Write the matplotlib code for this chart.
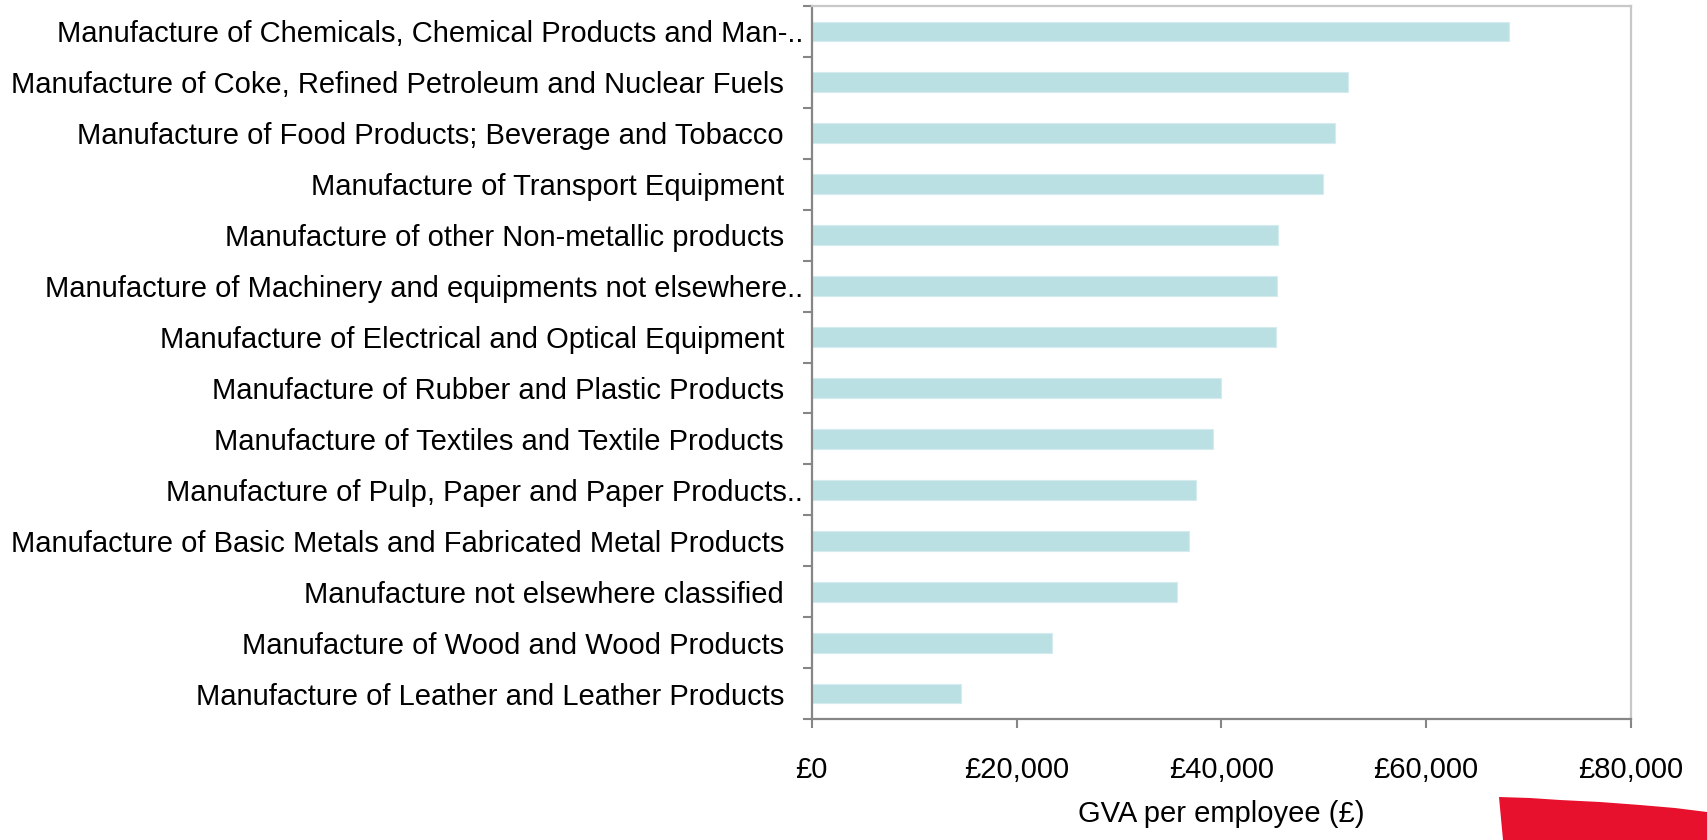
import matplotlib
matplotlib.use("Agg")
import matplotlib.pyplot as plt
from matplotlib.patches import Polygon
from matplotlib.transforms import ScaledTranslation

plt.rcParams['font.family'] = ['Liberation Sans', 'DejaVu Sans']

sectors = [
    "Manufacture of Chemicals, Chemical Products and Man-..",
    "Manufacture of Coke, Refined Petroleum and Nuclear Fuels",
    "Manufacture of Food Products; Beverage and Tobacco",
    "Manufacture of Transport Equipment",
    "Manufacture of other Non-metallic products",
    "Manufacture of Machinery and equipments not elsewhere..",
    "Manufacture of Electrical and Optical Equipment",
    "Manufacture of Rubber and Plastic Products",
    "Manufacture of Textiles and Textile Products",
    "Manufacture of Pulp, Paper and Paper Products..",
    "Manufacture of Basic Metals and Fabricated Metal Products",
    "Manufacture not elsewhere classified",
    "Manufacture of Wood and Wood Products",
    "Manufacture of Leather and Leather Products",
]
gva_per_employee = [68100, 52400, 51050, 49900, 45550, 45400, 45300,
                    40000, 39150, 37500, 36850, 35700, 23450, 14600]
x_ticks = [0, 20000, 40000, 60000, 80000]
x_tick_labels = ["£0", "£20,000", "£40,000", "£60,000", "£80,000"]

W, H = 1707, 840
fig = plt.figure(figsize=(W / 100, H / 100), dpi=100)
ax = fig.add_axes([811.7 / W, 1 - 719 / H, (1631 - 811.7) / W, (719 - 6) / H])

positions = list(range(len(sectors)))
ax.barh(positions, gva_per_employee, height=0.39, color='#bbe0e3',
        edgecolor='#d4ecee', linewidth=0.8, zorder=2)

ax.set_xlim(0, 80000)
ax.set_ylim(len(sectors) - 0.5, -0.5)

# category labels centred on bars, tick marks on category boundaries
ax.set_yticks(positions)
ax.set_yticklabels(sectors, fontsize=21)
ax.tick_params(axis='y', which='major', length=0, pad=20)
ax.set_yticks([p - 0.5 for p in positions] + [len(sectors) - 0.5], minor=True)
ax.tick_params(axis='y', which='minor', length=6.5, width=1.5, color='#868686',
               direction='out')

# truncated labels sit closer to the axis
shift = ScaledTranslation(19 / 100, 0, fig.dpi_scale_trans)
for lbl in ax.get_yticklabels():
    if lbl.get_text().endswith('..'):
        lbl.set_transform(lbl.get_transform() + shift)

ax.set_xticks(x_ticks)
ax.set_xticklabels(x_tick_labels, fontsize=21)
ax.tick_params(axis='x', length=6.5, width=1.5, color='#868686',
               direction='out', pad=20)
ax.set_xlabel("GVA per employee (£)", fontsize=21, labelpad=11.5)

for side in ('left', 'bottom'):
    ax.spines[side].set_color('#868686')
    ax.spines[side].set_linewidth(1.6)
for side in ('top', 'right'):
    ax.spines[side].set_color('#c8c8c8')
    ax.spines[side].set_linewidth(1.6)

# red corner emblem
emblem = [(1499, 797), (1530, 798), (1560, 800), (1600, 802), (1640, 805),
          (1675, 808), (1707, 812), (1707, 840), (1503, 840)]
fig.patches.append(Polygon([(x / W, 1 - y / H) for x, y in emblem],
                           closed=True, transform=fig.transFigure,
                           facecolor='#e8112d', edgecolor='none'))

fig.savefig("out.png", dpi=100)
